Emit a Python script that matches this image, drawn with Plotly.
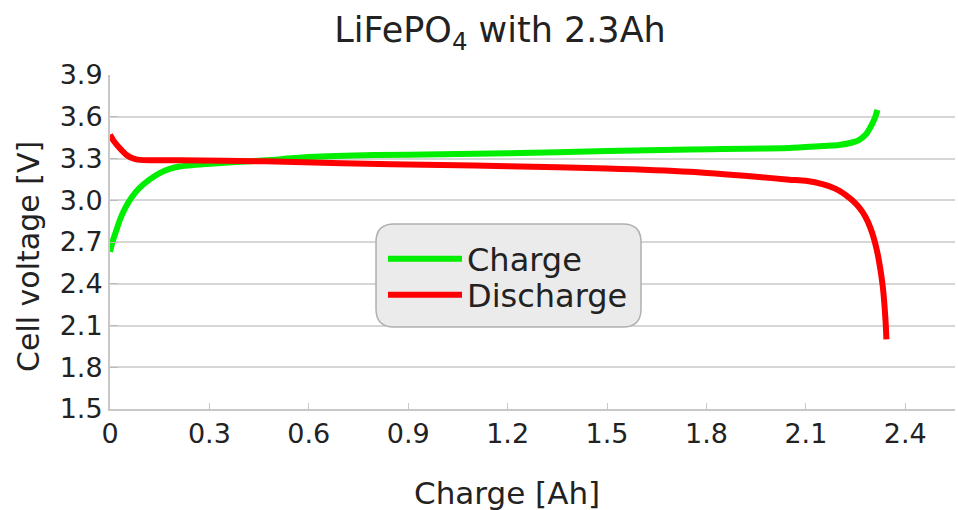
import plotly.graph_objects as go

charge_ah = [0.0, 0.01, 0.02, 0.03, 0.045, 0.065, 0.09, 0.12, 0.15, 0.18, 0.21, 0.29, 0.38, 0.47, 0.60, 0.80, 1.00, 1.20, 1.50, 1.75, 2.05, 2.15, 2.20, 2.24, 2.26, 2.28, 2.296, 2.308, 2.316]
charge_v = [2.63, 2.72, 2.79, 2.86, 2.94, 3.02, 3.09, 3.15, 3.195, 3.225, 3.242, 3.26, 3.275, 3.287, 3.31, 3.325, 3.33, 3.337, 3.353, 3.365, 3.375, 3.39, 3.397, 3.415, 3.432, 3.47, 3.53, 3.59, 3.65]

discharge_ah = [0.0, 0.01, 0.02, 0.035, 0.05, 0.07, 0.09, 0.13, 0.21, 0.47, 0.70, 1.00, 1.20, 1.50, 1.75, 1.95, 2.05, 2.10, 2.15, 2.20, 2.24, 2.26, 2.28, 2.295, 2.307, 2.317, 2.325, 2.332, 2.337, 2.341, 2.343]
discharge_v = [3.47, 3.43, 3.40, 3.36, 3.325, 3.30, 3.29, 3.288, 3.287, 3.28, 3.265, 3.253, 3.245, 3.229, 3.205, 3.169, 3.148, 3.14, 3.116, 3.07, 3.00, 2.95, 2.88, 2.80, 2.71, 2.61, 2.50, 2.38, 2.25, 2.11, 2.0]

W, H = 958, 510
ml, mr, mt, mb = 110, 3, 75, 101
pw, ph = W - ml - mr, H - mt - mb

def px(x):
    return (x - ml) / pw

def py(y):
    return (H - mb - y) / ph

fig = go.Figure()
fig.add_trace(go.Scatter(x=charge_ah, y=charge_v, mode="lines", name="Charge", legend="legend",
                         line=dict(color="#00ee00", width=6, shape="spline", smoothing=0.6)))
fig.add_trace(go.Scatter(x=discharge_ah, y=discharge_v, mode="lines", name="Discharge", legend="legend2",
                         line=dict(color="#ff0000", width=6, shape="spline", smoothing=0.6)))

# rounded legend box
x0, x1, y0, y1, r = 376, 641, 224, 327, 18
path = (f"M {px(x0 + r)} {py(y0)} L {px(x1 - r)} {py(y0)} "
        f"Q {px(x1)} {py(y0)} {px(x1)} {py(y0 + r)} L {px(x1)} {py(y1 - r)} "
        f"Q {px(x1)} {py(y1)} {px(x1 - r)} {py(y1)} L {px(x0 + r)} {py(y1)} "
        f"Q {px(x0)} {py(y1)} {px(x0)} {py(y1 - r)} L {px(x0)} {py(y0 + r)} "
        f"Q {px(x0)} {py(y0)} {px(x0 + r)} {py(y0)} Z")
fig.add_shape(type="path", path=path, xref="paper", yref="paper",
              fillcolor="#ebebeb", line=dict(color="#b0b0b0", width=1.5), layer="above")

fnt = "DejaVu Sans, sans-serif"
txt = "#222222"
leg_common = dict(xanchor="left", yanchor="middle", bgcolor="rgba(0,0,0,0)", borderwidth=0,
                  font=dict(family=fnt, size=32, color=txt), itemwidth=74)
fig.update_layout(
    width=W, height=H,
    margin=dict(l=ml, r=mr, t=mt, b=mb),
    paper_bgcolor="white", plot_bgcolor="white",
    title=dict(text="LiFePO<sub>4</sub> with 2.3Ah", x=500 / W, xanchor="center", xref="container",
               y=1 - 30 / H, yanchor="middle",
               font=dict(family=fnt, size=35, color=txt)),
    showlegend=True,
    legend=dict(x=px(383), y=py(259), **leg_common),
    legend2=dict(x=px(383), y=py(295), **leg_common),
    font=dict(family=fnt, color=txt),
    annotations=[
        dict(text="Charge [Ah]", xref="paper", yref="paper", x=px(507), y=py(493),
             xanchor="center", yanchor="middle", showarrow=False,
             font=dict(family=fnt, size=31, color=txt)),
        dict(text="Cell voltage [V]", xref="paper", yref="paper", x=px(28), y=py(257),
             xanchor="center", yanchor="middle", showarrow=False, textangle=-90,
             font=dict(family=fnt, size=30, color=txt)),
    ],
)
fig.update_xaxes(range=[0, 2.55], tick0=0, dtick=0.3, showgrid=False, automargin=False,
                 showline=True, linecolor="#c8c8c8", linewidth=2,
                 ticks="inside", ticklen=6, tickcolor="#c8c8c8", tickwidth=1,
                 tickfont=dict(family=fnt, size=27, color=txt),
                 zeroline=False)
fig.update_yaxes(range=[1.5, 3.9], tick0=1.5, dtick=0.3, tickformat=".1f", automargin=False,
                 showgrid=True, gridcolor="#d6d6d6", gridwidth=2,
                 showline=True, linecolor="#c8c8c8", linewidth=2,
                 ticks="inside", ticklen=8, tickcolor="#bbbbbb",
                 tickfont=dict(family=fnt, size=27, color=txt),
                 zeroline=False)

fig.write_html("out.html", config={"displayModeBar": False},
               post_script="document.body.style.margin='0px';")
